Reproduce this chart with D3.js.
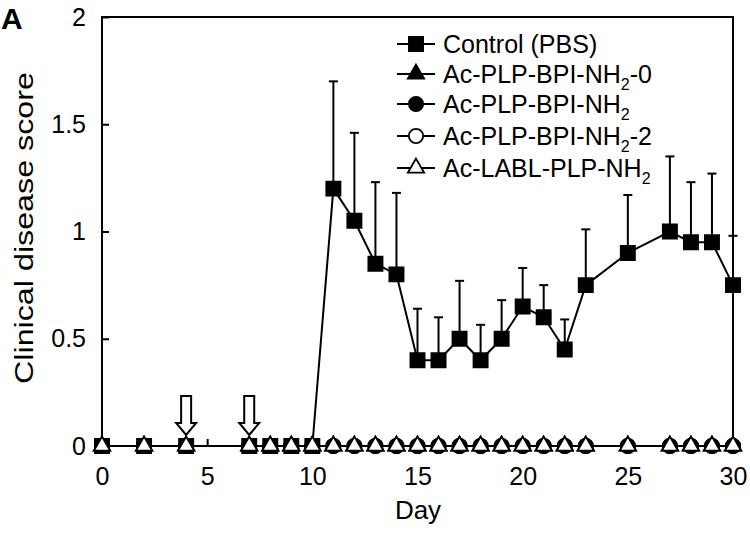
<!DOCTYPE html>
<html><head><meta charset="utf-8">
<script src="https://cdn.jsdelivr.net/npm/d3@7"></script>
<style>body{margin:0;background:#fff}svg{display:block}text{font-family:"Liberation Sans",Arial,sans-serif;fill:#000}</style>
</head><body><svg id="c" width="750" height="534"></svg>
<script>
const days = [0,2,4,7,8,9,10,11,12,13,14,15,16,17,18,19,20,21,22,23,25,27,28,29,30];
const control = [0,0,0,0,0,0,0,1.2,1.05,0.85,0.8,0.4,0.4,0.5,0.4,0.5,0.65,0.6,0.45,0.75,0.9,1.0,0.95,0.95,0.75];
const controlUpper = [null,null,null,null,null,null,null,1.70,1.46,1.23,1.18,0.64,0.60,0.77,0.565,0.68,0.83,0.75,0.59,1.01,1.17,1.35,1.23,1.27,0.98];
const bpi0 = [0,0,0,0,0,0,0,0,0,0,0,0,0,0,0,0,0,0,0,0,0,0,0,0,0];
const bpi  = [0,0,0,0,0,0,0,0,0,0,0,0,0,0,0,0,0,0,0,0,0,0,0,0,0];
const bpi2 = [0,0,0,0,0,0,0,0,0,0,0,0,0,0,0,0,0,0,0,0,0,0,0,0,0];
const labl = [0,0,0,0,0,0,0,0,0,0,0,0,0,0,0,0,0,0,0,0,0,0,0,0,0];
const seriesNames = ["Control (PBS)","Ac-PLP-BPI-NH|2|-0","Ac-PLP-BPI-NH|2|","Ac-PLP-BPI-NH|2|-2","Ac-LABL-PLP-NH|2|"];
const xTicks = [0,5,10,15,20,25,30];
const yTicks = [0,0.5,1,1.5,2];
const arrowDays = [4,7];

const svg = d3.select("#c");
const x = d3.scaleLinear().domain([0,30]).range([102,733]);
const y = d3.scaleLinear().domain([0,2]).range([446,17]);

// frame
svg.append("rect").attr("x",102).attr("y",17).attr("width",631).attr("height",429)
  .attr("fill","none").attr("stroke","#000").attr("stroke-width",2);

// axes
const yAx = svg.append("g").attr("transform","translate(102,0)")
  .call(d3.axisLeft(y).tickValues(yTicks).tickSize(-7).tickPadding(16).tickFormat(d3.format("")));
const xAx = svg.append("g").attr("transform","translate(0,446)")
  .call(d3.axisBottom(x).tickValues(xTicks).tickSize(-7).tickPadding(21));
[yAx,xAx].forEach(g=>{g.select(".domain").remove();
  g.selectAll("line").attr("stroke","#000").attr("stroke-width",2);
  g.selectAll("text").attr("font-size",25).attr("font-family","Liberation Sans, Arial, sans-serif").attr("fill","#000");});

svg.append("text").attr("transform","translate(33,228) rotate(-90)").attr("text-anchor","middle")
  .attr("font-size",26).attr("textLength",312).attr("lengthAdjust","spacingAndGlyphs").text("Clinical disease score");
svg.append("text").attr("x",418).attr("y",519).attr("text-anchor","middle").attr("font-size",26).text("Day");
svg.append("text").attr("x",1).attr("y",29).attr("font-size",30).attr("font-weight","bold").text("A");

// arrows
const aw = 5, hw = 10;
arrowDays.forEach(d=>{
  const cx = x(d), top = 396, neck = 423, tip = 435;
  svg.append("path").attr("d",`M${cx-aw},${top}L${cx+aw},${top}L${cx+aw},${neck}L${cx+hw},${neck}L${cx},${tip}L${cx-hw},${neck}L${cx-aw},${neck}Z`)
    .attr("fill","#fff").attr("stroke","#000").attr("stroke-width",2);
});

// lines
const line = d3.line().x((d,i)=>x(days[i])).y(d=>y(d));
[labl,bpi2,bpi,bpi0].forEach(s=>svg.append("path").attr("d",line(s)).attr("fill","none").attr("stroke","#000").attr("stroke-width",2));

// error bars
const eb = svg.append("g").attr("stroke","#000").attr("stroke-width",2);
days.forEach((d,i)=>{
  if(controlUpper[i]==null) return;
  eb.append("line").attr("x1",x(d)).attr("x2",x(d)).attr("y1",y(control[i])).attr("y2",y(controlUpper[i]));
  eb.append("line").attr("x1",x(d)-4.5).attr("x2",x(d)+4.5).attr("y1",y(controlUpper[i])).attr("y2",y(controlUpper[i]));
});
svg.append("path").attr("d",line(control)).attr("fill","none").attr("stroke","#000").attr("stroke-width",2);

const sym = {
  sq: d3.symbol().type(d3.symbolSquare).size(200),
  tri: d3.symbol().type(d3.symbolTriangle).size(115),
  cir: d3.symbol().type(d3.symbolCircle).size(160)
};
function drawMarkers(vals, s, fill){
  svg.append("g").selectAll("path").data(vals).join("path")
    .attr("transform",(v,i)=>`translate(${x(days[i])},${y(v)})`)
    .attr("d",sym[s]).attr("fill",fill).attr("stroke","#000").attr("stroke-width",1.8);
}
drawMarkers(bpi2,"cir","#fff");
drawMarkers(bpi,"cir","#000");
drawMarkers(bpi0,"tri","#000");
drawMarkers(control,"sq","#000");
drawMarkers(labl,"tri","#fff");

// legend
const legY = [44,74,104,136,168];
const legSym = [["sq","#000"],["tri","#000"],["cir","#000"],["cir","#fff"],["tri","#fff"]];
const lg = svg.append("g");
seriesNames.forEach((n,i)=>{
  const yy = legY[i];
  lg.append("line").attr("x1",397).attr("x2",435).attr("y1",yy).attr("y2",yy).attr("stroke","#000").attr("stroke-width",2);
  lg.append("path").attr("transform",`translate(416,${yy})`).attr("d",sym[legSym[i][0]])
    .attr("fill",legSym[i][1]).attr("stroke","#000").attr("stroke-width",1.8);
  const t = lg.append("text").attr("x",443).attr("y",yy+9).attr("font-size",25);
  n.split("|").forEach((part,k)=>{
    if(!part) return;
    const ts = t.append("tspan").text(part);
    if(k===1) ts.attr("font-size",16).attr("dy",7);
    if(k===2) ts.attr("dy",-7);
  });
});
</script></body></html>
